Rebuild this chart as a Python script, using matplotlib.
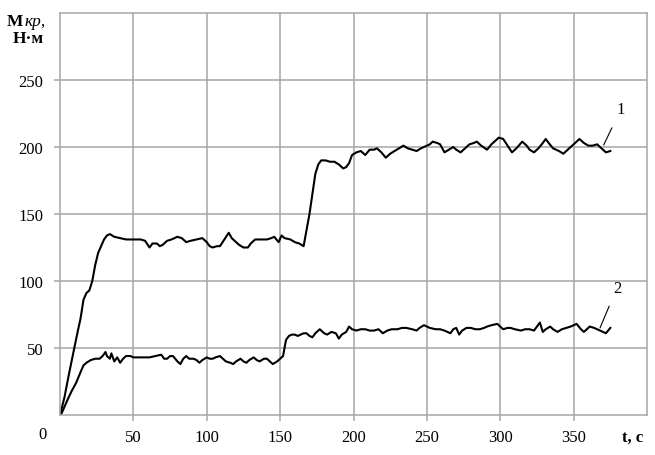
import matplotlib
matplotlib.use("Agg")
import matplotlib.pyplot as plt

plt.rcParams['font.family'] = ['Liberation Serif', 'DejaVu Serif']

# кривая 1
t1 = [0, 3, 6, 9, 12, 14, 16, 18, 20, 22, 24, 26, 28, 30, 32, 34, 37, 41, 45, 50,
      55, 58, 61, 63, 66, 68, 70, 73, 76, 80, 83, 86, 89, 93, 97, 100, 102, 104, 107, 109,
      112, 115, 117, 119, 122, 125, 128, 130, 133, 137, 141, 144, 146, 149, 151, 153, 157, 160, 163, 166,
      168, 170, 172, 174, 176, 178, 181, 184, 187, 190, 193, 195, 197, 199, 202, 205, 208, 211, 214, 216,
      219, 222, 225, 228, 231, 234, 237, 240, 243, 246, 250, 252, 254, 257, 259, 262, 265, 268, 270, 273,
      276, 279, 282, 284, 287, 291, 294, 297, 299, 302, 305, 308, 311, 315, 318, 320, 323, 326, 329, 331,
      333, 336, 340, 343, 347, 350, 354, 357, 360, 363, 366, 369, 372, 375]
m1 = [0, 13, 30, 46, 62, 72, 86, 91, 93, 100, 112, 121, 126, 131, 134, 135, 133, 132, 131, 131,
      131, 130, 125, 128, 128, 126, 127, 130, 131, 133, 132, 129, 130, 131, 132, 129, 126, 125, 126, 126,
      131, 136, 132, 130, 127, 125, 125, 128, 131, 131, 131, 132, 133, 129, 134, 132, 131, 129, 128, 126,
      138, 150, 165, 180, 187, 190, 190, 189, 189, 187, 184, 185, 188, 194, 196, 197, 194, 198, 198, 199,
      196, 192, 195, 197, 199, 201, 199, 198, 197, 199, 201, 202, 204, 203, 202, 196, 198, 200, 198, 196,
      199, 202, 203, 204, 201, 198, 202, 205, 207, 206, 201, 196, 199, 204, 201, 198, 196, 199, 203, 206,
      203, 199, 197, 195, 199, 202, 206, 203, 201, 201, 202, 199, 196, 197]

# кривая 2
t2 = [0, 1, 3, 5, 8, 11, 14, 16, 18, 21, 24, 27, 29, 31, 32, 34, 35, 37, 39, 41,
      43, 45, 48, 50, 55, 61, 65, 69, 71, 73, 75, 77, 80, 82, 84, 86, 88, 91, 93, 95,
      97, 100, 102, 104, 106, 109, 111, 113, 116, 118, 120, 123, 125, 127, 129, 132, 134, 136, 139, 141,
      143, 145, 148, 150, 152, 153, 154, 156, 158, 160, 162, 164, 166, 168, 170, 172, 174, 177, 180, 182,
      185, 188, 190, 192, 195, 197, 199, 202, 205, 208, 211, 214, 217, 220, 223, 226, 230, 233, 236, 240,
      243, 245, 248, 250, 252, 256, 259, 262, 266, 268, 270, 272, 274, 277, 280, 283, 286, 289, 291, 294,
      298, 300, 302, 305, 307, 310, 314, 317, 320, 323, 325, 327, 329, 331, 334, 336, 339, 342, 345, 348,
      350, 352, 355, 357, 359, 361, 364, 366, 368, 370, 372, 375]
m2 = [0, 1, 6, 11, 18, 24, 32, 37, 39, 41, 42, 42, 44, 47, 44, 42, 46, 40, 43, 39,
      42, 44, 44, 43, 43, 43, 44, 45, 42, 42, 44, 44, 40, 38, 42, 44, 42, 42, 41, 39,
      41, 43, 42, 42, 43, 44, 42, 40, 39, 38, 40, 42, 40, 39, 41, 43, 41, 40, 42, 42,
      40, 38, 40, 42, 44, 50, 56, 59, 60, 60, 59, 60, 61, 61, 59, 58, 61, 64, 61, 60,
      62, 61, 57, 60, 62, 66, 64, 63, 64, 64, 63, 63, 64, 61, 63, 64, 64, 65, 65, 64,
      63, 65, 67, 66, 65, 64, 64, 63, 61, 64, 65, 60, 63, 65, 65, 64, 64, 65, 66, 67,
      68, 66, 64, 65, 65, 64, 63, 64, 64, 63, 66, 69, 62, 64, 66, 64, 62, 64, 65, 66,
      67, 68, 64, 62, 64, 66, 65, 64, 63, 62, 61, 65]

xticks = [50, 100, 150, 200, 250, 300, 350]
yticks = [50, 100, 150, 200, 250]

grid_col = '#a6a6a6'

fig = plt.figure(figsize=(6.55, 4.56), dpi=100)
ax = fig.add_axes([60/655, 1 - 416/456, 587/655, 402/456])

ax.plot(t1, m1, color='black', lw=1.5)
ax.plot(t2, m2, color='black', lw=1.5)

ax.set_xlim(0, 400)
ax.set_ylim(0, 300)
ax.set_xticks(xticks)
ax.set_yticks(yticks)
ax.grid(True, color=grid_col, lw=1.1)
for s in ax.spines.values():
    s.set_color(grid_col)
    s.set_linewidth(1.1)
ax.tick_params(axis='both', colors=grid_col, length=4, width=1.1, labelsize=12,
               labelcolor='black')
ax.tick_params(axis='x', pad=6)
ax.tick_params(axis='y', pad=8)

# подписи осей
ax.text(-12, -14, '0', fontsize=12, ha='center', va='center', clip_on=False)
ax.text(390, -16, 't, с', fontsize=12, fontweight='bold', ha='center', va='center', clip_on=False)

m = fig.text(7/655, 1 - 22/456, 'М', fontsize=12.5, fontweight='bold', ha='left', va='center')
ax.annotate('кр,', xy=(1, 0), xycoords=m, xytext=(0.5, 0), textcoords='offset points',
            fontsize=12.5, style='italic', ha='left', va='bottom', annotation_clip=False)
fig.text(44/655, 1 - 39/456, 'Н·м', fontsize=12.5, fontweight='bold', ha='right', va='center')

# номера кривых
ax.annotate('1', xy=(370.5, 201.5), xytext=(382, 228), fontsize=12, ha='center', va='center',
            arrowprops=dict(arrowstyle='-', color='black', lw=0.8, shrinkA=6, shrinkB=0))
ax.annotate('2', xy=(368, 65), xytext=(379.5, 95), fontsize=12, ha='center', va='center',
            arrowprops=dict(arrowstyle='-', color='black', lw=0.8, shrinkA=6, shrinkB=0))

fig.savefig('out.png', dpi=100)
